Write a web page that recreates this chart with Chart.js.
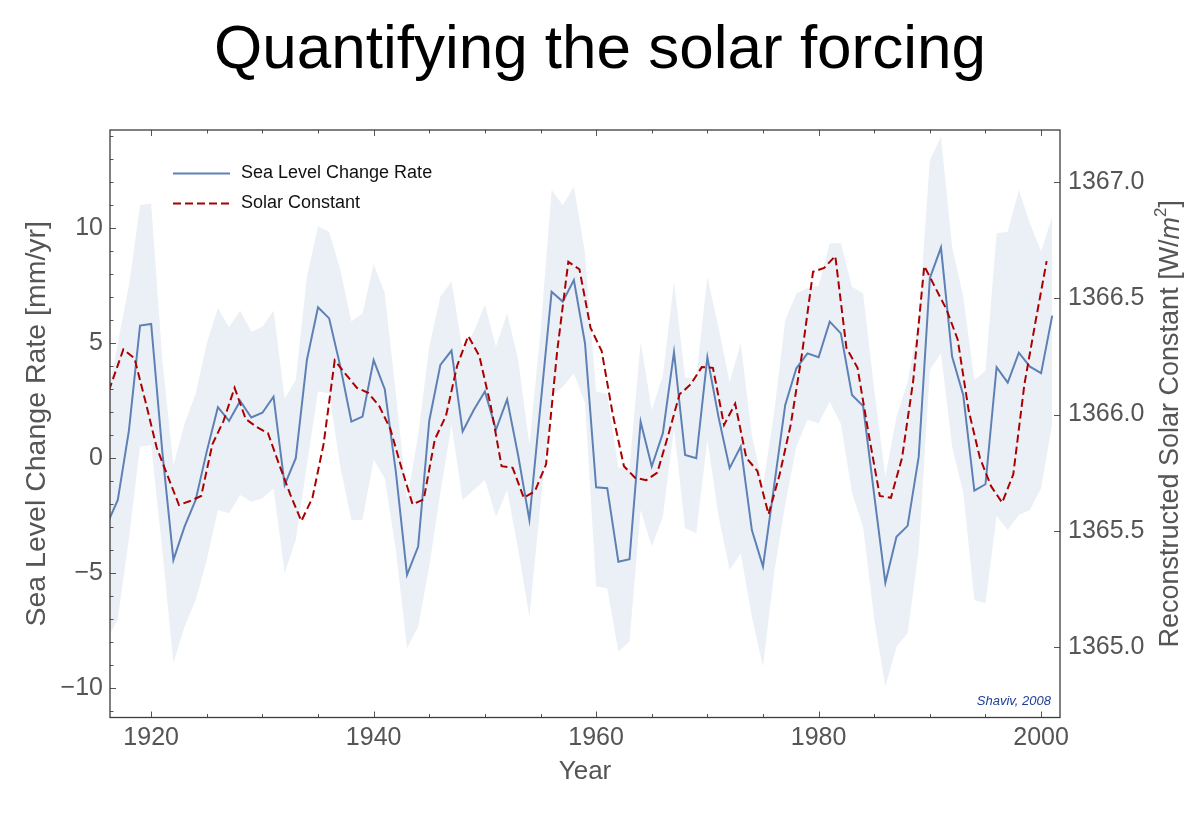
<!DOCTYPE html>
<html>
<head>
<meta charset="utf-8">
<script src="https://cdn.jsdelivr.net/npm/chart.js@4.4.0/dist/chart.umd.min.js"></script>
<style>
html,body{margin:0;padding:0;background:#ffffff;}
#wrap{width:1200px;height:816px;position:relative;}
</style>
</head>
<body>
<div id="wrap"><canvas id="c" width="1200" height="816"></canvas></div>
<script>
// ---- Data ----
const years = [1916,1917,1918,1919,1920,1921,1922,1923,1924,1925,1926,1927,1928,1929,1930,1931,1932,1933,1934,1935,
  1936,1937,1938,1939,1940,1941,1942,1943,1944,1945,1946,1947,1948,1949,1950,1951,1952,1953,1954,1955,
  1956,1957,1958,1959,1960,1961,1962,1963,1964,1965,1966,1967,1968,1969,1970,1971,1972,1973,1974,1975,
  1976,1977,1978,1979,1980,1981,1982,1983,1984,1985,1986,1987,1988,1989,1990,1991,1992,1993,1994,1995,
  1996,1997,1998,1999,2000,2001];

const seaLevelRate = [-2.9,-1.81,1.2,5.77,5.84,0.3,-4.42,-2.97,-1.81,0.3,2.22,1.62,2.49,1.77,1.98,2.68,-1.16,0.0,4.27,6.56,
  6.08,4.0,1.59,1.81,4.27,3.0,-0.6,-5.07,-3.84,1.63,4.06,4.68,1.16,2.1,2.9,1.25,2.56,0.1,-2.68,2.3,
  7.24,6.81,7.75,5.0,-1.26,-1.3,-4.5,-4.39,1.59,-0.36,1.09,4.61,0.14,0.0,4.39,1.8,-0.43,0.51,-3.12,-4.71,
  -1.2,2.32,3.91,4.56,4.39,5.94,5.43,2.75,2.27,-1.6,-5.41,-3.41,-2.94,0.07,7.83,9.16,4.42,2.75,-1.41,-1.13,
  3.96,3.29,4.59,3.98,3.7,6.2];

const rateUpper = [2.5,5.0,7.5,11.0,11.07,4.3,-0.3,1.5,2.8,5.0,6.53,5.7,6.42,5.5,5.72,6.42,2.6,3.4,7.9,10.07,
  9.85,8.19,5.94,6.3,8.45,7.17,2.8,-1.8,1.0,4.85,7.03,7.68,4.7,5.5,6.67,4.85,6.3,4.27,0.6,5.5,
  11.67,11.0,11.81,8.91,2.9,2.8,-0.4,-0.4,5.07,2.1,3.6,7.68,3.5,3.5,7.9,5.7,3.3,5.0,1.0,-1.2,
  2.0,6.0,7.16,7.4,7.5,9.35,9.35,7.46,7.17,3.0,-0.8,1.8,3.3,6.0,12.97,13.98,9.2,7.03,3.4,3.8,
  9.78,9.85,11.67,10.2,9.0,10.5];

const rateLower = [-7.9,-7.0,-3.5,0.5,0.58,-4.0,-8.9,-7.32,-6.16,-4.42,-2.25,-2.39,-1.6,-1.89,-1.74,-1.3,-5.0,-3.55,-0.3,2.9,
  2.83,-0.36,-2.68,-2.68,-0.07,-0.87,-4.0,-8.26,-7.32,-4.71,-1.5,1.45,-1.81,-1.38,-0.94,-2.54,-1.38,-3.99,-6.89,-2.0,
  2.68,3.11,3.7,2.4,-5.58,-5.65,-8.41,-7.97,-2.25,-3.84,-2.54,1.3,-3.04,-3.26,0.8,-2.5,-4.86,-4.13,-6.89,-9.06,
  -5.0,-2.0,0.5,1.67,1.52,2.46,1.5,-1.5,-3.0,-7.0,-9.93,-8.19,-7.61,-4.0,3.84,4.58,0.5,-1.5,-6.16,-6.3,
  -2.5,-3.12,-2.47,-2.25,-1.3,1.5];

const solarYears = [1915.5,1916.5,1917.5,1918.5,1919.5,1920.5,1921.5,1922.5,1923.5,1924.5,1925.5,1926.5,1927.5,1928.5,1929.5,
  1930.5,1931.5,1932.5,1933.5,1934.5,1935.5,1936.5,1937.5,1938.5,1939.5,1940.5,1941.5,1942.5,1943.5,1944.5,
  1945.5,1946.5,1947.5,1948.5,1949.5,1950.5,1951.5,1952.5,1953.5,1954.5,1955.5,1956.5,1957.5,1958.5,1959.5,
  1960.5,1961.5,1962.5,1963.5,1964.5,1965.5,1966.5,1967.5,1968.5,1969.5,1970.5,1971.5,1972.5,1973.5,1974.5,
  1975.5,1976.5,1977.5,1978.5,1979.5,1980.5,1981.5,1982.5,1983.5,1984.5,1985.5,1986.5,1987.5,1988.5,1989.5,
  1990.5,1991.5,1992.5,1993.5,1994.5,1995.5,1996.5,1997.5,1998.5,1999.5,2000.5];

const solarConstant = [1366.006,1366.144,1366.280,1366.242,1366.054,1365.857,1365.734,1365.611,1365.628,1365.650,
  1365.872,1365.972,1366.115,1365.981,1365.946,1365.920,1365.786,1365.657,1365.542,1365.642,
  1365.873,1366.233,1366.173,1366.115,1366.094,1366.037,1365.938,1365.771,1365.614,1365.635,
  1365.893,1365.994,1366.209,1366.338,1366.252,1366.044,1365.778,1365.771,1365.642,1365.671,
  1365.786,1366.273,1366.657,1366.625,1366.373,1366.273,1366.000,1365.778,1365.728,1365.718,
  1365.750,1365.915,1366.087,1366.130,1366.204,1366.201,1365.955,1366.047,1365.814,1365.757,
  1365.571,1365.743,1365.958,1366.259,1366.614,1366.631,1366.682,1366.287,1366.201,1365.916,
  1365.650,1365.642,1365.814,1366.144,1366.639,1366.545,1366.452,1366.323,1366.015,1365.814,
  1365.692,1365.621,1365.743,1366.130,1366.400,1366.660];

const xTickLabels = [1920,1940,1960,1980,2000];
const leftTickLabels = [-10,-5,0,5,10];
const rightTickLabels = [1365.0,1365.5,1366.0,1366.5,1367.0];

const seriesNames = ['Sea Level Change Rate','Solar Constant'];
const chartTitle = 'Quantifying the solar forcing';
const xTitle = 'Year';
const yTitle = 'Sea Level Change Rate [mm/yr]';
const y2TitleMain = 'Reconstructed Solar Constant [W/';
const creditText = 'Shaviv, 2008';

// ---- Styling ----
const FONT = "'Liberation Sans', Arial, Helvetica, sans-serif";
const BLUE = '#5e81b5';
const RED = '#aa0000';
const BAND = 'rgba(94,129,181,0.12)';
const GREY = '#555555';

const pts = (xs, ys) => xs.map((x, i) => ({x: x, y: ys[i]}));

const decorPlugin = {
  id: 'decor',
  afterDraw(chart) {
    const {ctx, chartArea: a, scales} = chart;
    const xs = scales.x, ys = scales.y, y2 = scales.y2;
    ctx.save();
    // tick marks (inward)
    ctx.strokeStyle = '#555';
    ctx.lineWidth = 1;
    ctx.beginPath();
    for (let v = 1920; v <= 2000; v += 5) {
      const px = Math.round(xs.getPixelForValue(v)) + 0.5;
      const len = (v % 20 === 0) ? 6 : 3.5;
      ctx.moveTo(px, a.bottom); ctx.lineTo(px, a.bottom - len);
      ctx.moveTo(px, a.top); ctx.lineTo(px, a.top + len);
    }
    for (let v = -11; v <= 14; v += 1) {
      const py = Math.round(ys.getPixelForValue(v)) + 0.5;
      const len = (v % 5 === 0) ? 6 : 3.5;
      ctx.moveTo(a.left, py); ctx.lineTo(a.left + len, py);
    }
    for (const v of rightTickLabels) {
      const py = Math.round(y2.getPixelForValue(v)) + 0.5;
      ctx.moveTo(a.right, py); ctx.lineTo(a.right - 6, py);
    }
    ctx.stroke();
    // frame
    ctx.strokeStyle = '#3c3c3c';
    ctx.lineWidth = 1.3;
    ctx.strokeRect(a.left, a.top, a.right - a.left, a.bottom - a.top);

    // legend
    const lx0 = a.left + 63, lx1 = a.left + 120, tx = a.left + 131;
    const ly1 = a.top + 43.5, ly2 = a.top + 73.5;
    ctx.lineWidth = 2;
    ctx.strokeStyle = BLUE;
    ctx.setLineDash([]);
    ctx.beginPath(); ctx.moveTo(lx0, ly1); ctx.lineTo(lx1, ly1); ctx.stroke();
    ctx.strokeStyle = RED;
    ctx.setLineDash([8, 4]);
    ctx.beginPath(); ctx.moveTo(lx0, ly2); ctx.lineTo(lx1, ly2); ctx.stroke();
    ctx.setLineDash([]);
    ctx.fillStyle = '#111';
    ctx.font = '18px ' + FONT;
    ctx.textAlign = 'left';
    ctx.textBaseline = 'middle';
    ctx.fillText(seriesNames[0], tx, ly1);
    ctx.fillText(seriesNames[1], tx, ly2);

    // credit
    ctx.font = 'italic 13px ' + FONT;
    ctx.fillStyle = '#1f3e96';
    ctx.textAlign = 'right';
    ctx.textBaseline = 'alphabetic';
    ctx.fillText(creditText, a.right - 9, a.bottom - 13);

    // right axis title (reads bottom-to-top)
    const cx = 1171, cy = (a.top + a.bottom) / 2;
    ctx.translate(cx, cy);
    ctx.rotate(-Math.PI / 2);
    ctx.fillStyle = GREY;
    ctx.textBaseline = 'middle';
    ctx.textAlign = 'left';
    const f1 = '27px ' + FONT, f2 = 'italic 27px ' + FONT, f3 = '17px ' + FONT;
    ctx.font = f1; const w1 = ctx.measureText(y2TitleMain).width;
    ctx.font = f2; const w2 = ctx.measureText('m').width;
    ctx.font = f3; const w3 = ctx.measureText('2').width;
    ctx.font = f1; const w4 = ctx.measureText(']').width;
    let sx = -(w1 + w2 + w3 + w4) / 2;
    ctx.font = f1; ctx.fillText(y2TitleMain, sx, 0); sx += w1;
    ctx.font = f2; ctx.fillText('m', sx, 0); sx += w2;
    ctx.font = f3; ctx.fillText('2', sx, -10); sx += w3;
    ctx.font = f1; ctx.fillText(']', sx, 0);
    ctx.restore();
  }
};

new Chart(document.getElementById('c'), {
  type: 'line',
  data: {
    datasets: [
      {
        label: seriesNames[0],
        data: pts(years, seaLevelRate),
        yAxisID: 'y',
        borderColor: BLUE,
        borderWidth: 2,
        pointRadius: 0,
        tension: 0,
        fill: false,
        order: 1,
        clip: 0
      },
      {
        label: seriesNames[1],
        data: pts(solarYears, solarConstant),
        yAxisID: 'y2',
        borderColor: RED,
        borderWidth: 2,
        borderDash: [8, 4],
        pointRadius: 0,
        tension: 0,
        fill: false,
        order: 0,
        clip: 0
      },
      {
        label: 'lower',
        data: pts(years, rateLower),
        yAxisID: 'y',
        borderWidth: 0,
        borderColor: 'rgba(0,0,0,0)',
        pointRadius: 0,
        tension: 0,
        fill: false,
        order: 3,
        clip: 0
      },
      {
        label: 'upper',
        data: pts(years, rateUpper),
        yAxisID: 'y',
        borderWidth: 0,
        borderColor: 'rgba(0,0,0,0)',
        backgroundColor: BAND,
        pointRadius: 0,
        tension: 0,
        fill: 2,
        order: 2,
        clip: 0
      }
    ]
  },
  options: {
    responsive: false,
    animation: false,
    devicePixelRatio: 1,
    layout: { padding: 0 },
    plugins: {
      legend: { display: false },
      tooltip: { enabled: false },
      title: {
        display: true,
        text: chartTitle,
        color: '#000',
        font: { family: FONT, size: 62, weight: 'normal', lineHeight: 1 },
        padding: { top: 20, bottom: 48 }
      }
    },
    scales: {
      x: {
        type: 'linear',
        position: 'bottom',
        min: 1916.3,
        max: 2001.7,
        afterFit: (s) => { s.height = 98.5; },
        grid: { display: false, drawTicks: false },
        border: { display: false },
        ticks: {
          stepSize: 20,
          includeBounds: false,
          padding: 6,
          color: GREY,
          font: { family: FONT, size: 25 },
          maxRotation: 0,
          autoSkip: false,
          callback: (v) => xTickLabels.includes(v) ? String(v) : ''
        },
        title: {
          display: true,
          text: xTitle,
          color: GREY,
          font: { family: FONT, size: 26 },
          padding: { top: 0, bottom: 29 }
        }
      },
      y: {
        type: 'linear',
        position: 'left',
        min: -11.27,
        max: 14.27,
        afterFit: (s) => { s.width = 110; },
        grid: { display: false, drawTicks: false },
        border: { display: false },
        ticks: {
          stepSize: 5,
          includeBounds: false,
          padding: 7,
          color: GREY,
          font: { family: FONT, size: 25 },
          callback: (v) => leftTickLabels.includes(v) ? (v < 0 ? '\u2212' + Math.abs(v) : String(v)) : ''
        },
        title: {
          display: true,
          text: yTitle,
          color: GREY,
          font: { family: FONT, size: 28.5 },
          padding: { top: 20, bottom: 0 }
        }
      },
      y2: {
        type: 'linear',
        position: 'right',
        min: 1364.697,
        max: 1367.224,
        afterFit: (s) => { s.width = 140; },
        grid: { display: false, drawTicks: false },
        border: { display: false },
        ticks: {
          stepSize: 0.5,
          includeBounds: false,
          padding: 8,
          color: GREY,
          font: { family: FONT, size: 25 },
          callback: (v) => rightTickLabels.some(t => Math.abs(t - v) < 1e-6) ? Number(v).toFixed(1) : ''
        },
        title: { display: false }
      }
    }
  },
  plugins: [decorPlugin]
});
</script>
</body>
</html>
